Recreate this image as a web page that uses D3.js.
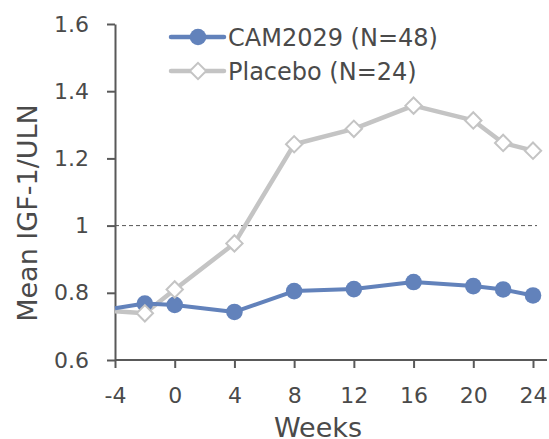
<!DOCTYPE html>
<html>
<head>
<meta charset="utf-8">
<script src="https://cdn.jsdelivr.net/npm/d3@7"></script>
<style>
  body { margin: 0; background: #fff; }
  svg { display: block; }
</style>
</head>
<body>
<script>
// --- data ---
const weeks = [-4, -2, 0, 4, 8, 12, 16, 20, 22, 24];
const cam2029 = [0.754, 0.768, 0.764, 0.743, 0.805, 0.811, 0.832, 0.820, 0.810, 0.792];
const placebo = [0.745, 0.739, 0.810, 0.947, 1.242, 1.288, 1.357, 1.313, 1.246, 1.223];
const xTicks = [-4, 0, 4, 8, 12, 16, 20, 24];
const yTicks = [0.6, 0.8, 1, 1.2, 1.4, 1.6];
const seriesNames = ["CAM2029 (N=48)", "Placebo (N=24)"];

const width = 549, height = 439;
const blue = "#6282bb", grey = "#c4c4c4", axisCol = "#595959", textCol = "#4a4a4a";
const font = "'DejaVu Sans', sans-serif";

const svg = d3.select("body").append("svg")
  .attr("width", width).attr("height", height);

const x = d3.scaleLinear().domain([-4, 24]).range([115, 533]);
const y = d3.scaleLinear().domain([0.6, 1.6]).range([360, 24]);

// dashed reference line at 1
svg.append("line")
  .attr("x1", x(-4)).attr("x2", x(24) + 4)
  .attr("y1", y(1)).attr("y2", y(1))
  .attr("stroke", "#555").attr("stroke-width", 1)
  .attr("stroke-dasharray", "4,3");

// axes
const yAxis = svg.append("g")
  .attr("transform", `translate(${x(-4)},0)`)
  .call(d3.axisLeft(y).tickValues(yTicks).tickSize(8).tickSizeOuter(0)
    .tickFormat(d => String(d)));
const xAxis = svg.append("g")
  .attr("transform", `translate(0,${y(0.6)})`)
  .call(d3.axisBottom(x).tickValues(xTicks).tickSize(8).tickSizeOuter(0)
    .tickFormat(d => String(d)));

// bottom axis line runs on to the right edge like the original
xAxis.select(".domain").attr("d", `M${x(-4)},0H${x(24) + 14}`);

[yAxis, xAxis].forEach(a => {
  a.select(".domain").attr("stroke", axisCol).attr("stroke-width", 2);
  a.selectAll(".tick line").attr("stroke", axisCol).attr("stroke-width", 2);
  a.selectAll(".tick text")
    .attr("fill", textCol).attr("font-family", font).attr("font-size", 22);
});
yAxis.selectAll(".tick text").attr("x", -26);
xAxis.selectAll(".tick text").attr("y", 28).attr("dy", 0).attr("dominant-baseline", "auto")
  .attr("y", 43);

// axis titles
svg.append("text")
  .attr("transform", `translate(37,${(y(0.6) + y(1.6)) / 2 + 21}) rotate(-90)`)
  .attr("text-anchor", "middle")
  .attr("font-family", font).attr("font-size", 27).attr("fill", textCol)
  .text("Mean IGF-1/ULN");
svg.append("text")
  .attr("x", 318).attr("y", 437)
  .attr("text-anchor", "middle")
  .attr("font-family", font).attr("font-size", 27).attr("fill", textCol)
  .text("Weeks");

const line = d3.line().x(d => x(d[0])).y(d => y(d[1]));
const camPts = weeks.map((w, i) => [w, cam2029[i]]);
const plaPts = weeks.map((w, i) => [w, placebo[i]]);

// placebo line
svg.append("path").datum(plaPts)
  .attr("d", line).attr("fill", "none")
  .attr("stroke", grey).attr("stroke-width", 4.5).attr("stroke-linejoin", "round");

// CAM2029 line
svg.append("path").datum(camPts)
  .attr("d", line).attr("fill", "none")
  .attr("stroke", blue).attr("stroke-width", 4).attr("stroke-linejoin", "round");

const diamond = d3.symbol().type(d3.symbolDiamond2).size(170);

// markers (week -4 has none in the original)
svg.selectAll("circle.cam").data(camPts.filter(d => d[0] > -4)).enter()
  .append("circle").attr("class", "cam")
  .attr("cx", d => x(d[0])).attr("cy", d => y(d[1])).attr("r", 8.3)
  .attr("fill", blue);

svg.selectAll("path.pla").data(plaPts.filter(d => d[0] > -4)).enter()
  .append("path").attr("class", "pla")
  .attr("d", diamond)
  .attr("transform", d => `translate(${x(d[0])},${y(d[1])})`)
  .attr("fill", "#fff").attr("stroke", grey).attr("stroke-width", 2);

// legend
const legend = svg.append("g").attr("font-family", font);
const legendItems = [
  { name: seriesNames[0], color: blue, type: "circle", y: 37 },
  { name: seriesNames[1], color: grey, type: "diamond", y: 71 }
];
legendItems.forEach(it => {
  legend.append("line")
    .attr("x1", 171).attr("x2", 224).attr("y1", it.y).attr("y2", it.y)
    .attr("stroke", it.color).attr("stroke-width", 4.5).attr("stroke-linecap", "round");
  if (it.type === "circle") {
    legend.append("circle").attr("cx", 198).attr("cy", it.y).attr("r", 8.3).attr("fill", it.color);
  } else {
    legend.append("path").attr("d", diamond)
      .attr("transform", `translate(198,${it.y})`)
      .attr("fill", "#fff").attr("stroke", it.color).attr("stroke-width", 2);
  }
  legend.append("text")
    .attr("x", 228).attr("y", it.y).attr("dy", "0.36em")
    .attr("font-size", 24).attr("fill", textCol)
    .text(it.name);
});
</script>
</body>
</html>
